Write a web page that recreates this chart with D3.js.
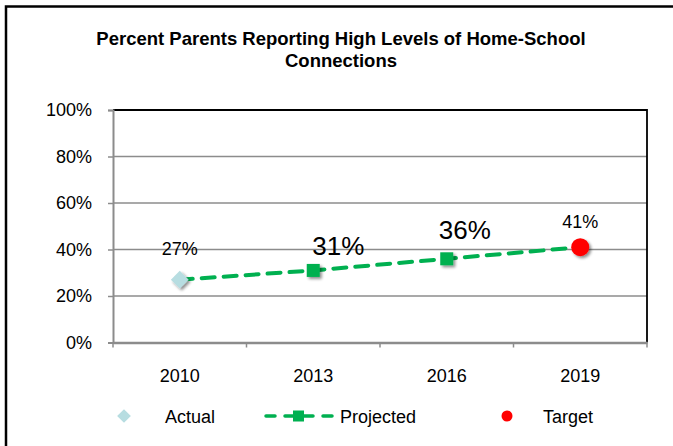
<!DOCTYPE html>
<html><head><meta charset="utf-8">
<script src="https://cdn.jsdelivr.net/npm/d3@7"></script>
<style>body{margin:0;background:#fff}svg{display:block;font-family:"Liberation Sans",Arial,sans-serif}</style>
</head><body><svg id="c" width="673" height="446"></svg>
<script>
const title = ["Percent Parents Reporting High Levels of Home-School", "Connections"];
const years = ["2010", "2013", "2016", "2019"];
const yTicks = [0, 20, 40, 60, 80, 100];
const actual = [{year: "2010", value: 27}];
const projected = [27, 31, 36, 41];
const target = [{year: "2019", value: 41}];
const labels = [
  {year: "2010", value: 27, text: "27%", big: false, dx: 0, dy: -25},
  {year: "2013", value: 31, text: "31%", big: true, dx: 25, dy: -15},
  {year: "2016", value: 36, text: "36%", big: true, dx: 18, dy: -20},
  {year: "2019", value: 41, text: "41%", big: false, dx: 0, dy: -19}
];

const svg = d3.select("#c");
svg.append("defs").html(`<filter id="sh" x="-50%" y="-50%" width="200%" height="200%"><feGaussianBlur in="SourceAlpha" stdDeviation="1.5"/><feOffset dx="1.5" dy="2" result="b"/><feComponentTransfer><feFuncA type="linear" slope="0.45"/></feComponentTransfer><feMerge><feMergeNode/><feMergeNode in="SourceGraphic"/></feMerge></filter>`);

// outer border
svg.append("path").attr("d","M6,450 V6.5 H680").attr("fill","none").attr("stroke","#000").attr("stroke-width",2.5);

const L = 113, R = 647, T = 110, B = 342.5;
const x = d3.scaleBand().domain(years).range([L, R]);
const y = d3.scaleLinear().domain([0, 100]).range([B, T]);
const cx = d => x(d) + x.bandwidth() / 2;

svg.append("g").attr("font-size", 18.5).attr("font-weight", "bold").attr("text-anchor", "middle")
  .selectAll("text").data(title).join("text")
  .attr("x", 341).attr("y", (d, i) => 45 + i * 21.5).text(d => d);

// gridlines
svg.append("g").selectAll("line").data(yTicks.filter(v => v > 0 && v < 100)).join("line")
  .attr("x1", L).attr("x2", R).attr("y1", d => y(d)).attr("y2", d => y(d))
  .attr("stroke", "#8c8c8c").attr("stroke-width", 1.5);
// plot border top/right
svg.append("path").attr("d", `M${L},${y(100)} H${R} V${B}`).attr("fill", "none").attr("stroke", "#000").attr("stroke-width", 1.8);

// y axis
const ya = svg.append("g").attr("transform", `translate(${L},0)`)
  .call(d3.axisLeft(y).tickValues(yTicks).tickFormat(d => d + "%").tickSize(5).tickPadding(16));
ya.select(".domain").attr("stroke", "#8c8c8c").attr("stroke-width", 2);
ya.selectAll(".tick line").attr("stroke", "#8c8c8c").attr("stroke-width", 1.5);
ya.selectAll("text").attr("font-size", 18).attr("fill", "#000").attr("font-family", "Liberation Sans, Arial, sans-serif");

// x axis
const xa = svg.append("g").attr("transform", `translate(0,${B})`)
  .call(d3.axisBottom(x).tickSize(0).tickPadding(27));
xa.select(".domain").attr("stroke", "#8c8c8c").attr("stroke-width", 2.5);
xa.selectAll("text").attr("font-size", 18).attr("fill", "#000").attr("font-family", "Liberation Sans, Arial, sans-serif");
svg.append("g").selectAll("line").data([...years.map(d => x(d)), R]).join("line")
  .attr("x1", d => d).attr("x2", d => d).attr("y1", B).attr("y2", B + 5)
  .attr("stroke", "#8c8c8c").attr("stroke-width", 1.5);

// projected line
const line = d3.line().x((d, i) => cx(years[i])).y(d => y(d));
svg.append("path").datum(projected).attr("d", line).attr("fill", "none")
  .attr("stroke", "#00b050").attr("stroke-width", 4).attr("stroke-dasharray", "13,9").attr("stroke-linecap", "round");
svg.append("g").selectAll("rect").data(projected.slice(1, 3)).join("rect")
  .attr("x", (d, i) => cx(years[i + 1]) - 6.5).attr("y", d => y(d) - 6.5)
  .attr("width", 13).attr("height", 13).attr("fill", "#00b050").attr("filter", "url(#sh)");

// actual
svg.append("g").selectAll("path").data(actual).join("path")
  .attr("d", d3.symbol(d3.symbolDiamond2, 200)())
  .attr("transform", d => `translate(${cx(d.year)},${y(d.value)})`)
  .attr("fill", "#b7dde1").attr("filter", "url(#sh)");

// target
svg.append("g").selectAll("circle").data(target).join("circle")
  .attr("cx", d => cx(d.year)).attr("cy", d => y(d.value)).attr("r", 9)
  .attr("fill", "#ff0000").attr("filter", "url(#sh)");

// labels
svg.append("g").attr("text-anchor", "middle").selectAll("text").data(labels).join("text")
  .attr("x", d => cx(d.year) + d.dx).attr("y", d => y(d.value) + d.dy)
  .attr("font-size", d => d.big ? 26 : 18).text(d => d.text);

// legend
const lg = svg.append("g").attr("font-size", 18);
const ly = 416;
lg.append("path").attr("d", d3.symbol(d3.symbolDiamond2, 120)()).attr("transform", `translate(124,${ly})`).attr("fill", "#b7dde1");
lg.append("text").attr("x", 165).attr("y", ly + 6.5).text("Actual");
lg.append("line").attr("x1", 266).attr("x2", 333).attr("y1", ly).attr("y2", ly)
  .attr("stroke", "#00b050").attr("stroke-width", 3.5).attr("stroke-dasharray", "9,10").attr("stroke-linecap", "round");
lg.append("rect").attr("x", 293).attr("y", ly - 5.5).attr("width", 11).attr("height", 11).attr("fill", "#00b050");
lg.append("text").attr("x", 340).attr("y", ly + 6.5).text("Projected");
lg.append("circle").attr("cx", 507).attr("cy", ly).attr("r", 5.5).attr("fill", "#ff0000");
lg.append("text").attr("x", 543).attr("y", ly + 6.5).text("Target");
</script></body></html>
